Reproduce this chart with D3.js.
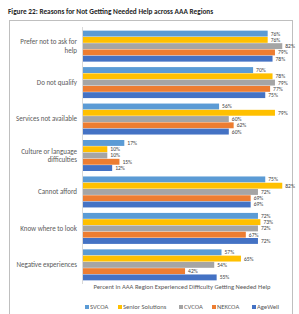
<!DOCTYPE html>
<html><head><meta charset="utf-8">
<script src="https://cdn.jsdelivr.net/npm/d3@7"></script>
<style>body{margin:0;background:#fff}svg{display:block}</style>
</head><body>
<script>
const categories = [["Prefer not to ask for","help"],["Do not qualify"],["Services not available"],["Culture or language","difficulties"],["Cannot afford"],["Know where to look"],["Negative experiences"]];
const seriesNames = ["SVCOA","Senior Solutions","CVCOA","NEKCOA","AgeWell"];
const SVCOA = [76,70,56,17,75,72,57];
const SeniorSolutions = [76,78,79,10,82,73,65];
const CVCOA = [82,79,60,10,72,72,54];
const NEKCOA = [79,77,62,15,69,67,42];
const AgeWell = [78,75,60,12,69,72,55];
const colors = ["#5B9BD5","#FFC000","#A5A5A5","#ED7D31","#4472C4"];
const seriesValues = [SVCOA,SeniorSolutions,CVCOA,NEKCOA,AgeWell];
const title = "Figure 22:  Reasons for Not Getting Needed Help across AAA Regions";
const axisTitle = "Percent in AAA Region Experienced Difficulty Getting Needed Help";

const W=299,H=314;
const svg=d3.select("body").append("svg").attr("width",W).attr("height",H);
const font="Calibri, Carlito, 'Liberation Sans', Arial, sans-serif";

svg.append("text").attr("x",8).attr("y",14).attr("font-family",font).attr("font-size",7.3)
  .attr("font-weight","bold").attr("fill","#262626").text(title);
svg.append("rect").attr("x",9.5).attr("y",20.5).attr("width",283).attr("height",300)
  .attr("fill","none").attr("stroke","#BFBFBF").attr("stroke-width",1);

const y=d3.scaleBand().domain(d3.range(categories.length)).range([27,284]).paddingInner(0.15).paddingOuter(0.1);
const ys=d3.scaleBand().domain(d3.range(seriesNames.length)).range([0,y.bandwidth()]).paddingInner(0.06);
const x=d3.scaleLinear().domain([0,100]).range([83,326]);

svg.append("line").attr("x1",82.5).attr("x2",82.5).attr("y1",27).attr("y2",284).attr("stroke","#D9D9D9");

const g=svg.append("g");
categories.forEach((c,i)=>{
  const gy=y(i);
  seriesValues.forEach((vals,s)=>{
    const v=vals[i];
    g.append("rect").attr("x",x(0)).attr("y",gy+ys(s)).attr("width",x(v)-x(0)).attr("height",ys.bandwidth())
      .attr("fill",colors[s]);
    g.append("text").attr("x",x(v)+3).attr("y",gy+ys(s)+ys.bandwidth()/2).attr("dy","0.35em")
      .attr("font-family",font).attr("font-size",5.6).attr("fill","#404040").text(v+"%");
  });
  const t=g.append("text").attr("x",77).attr("font-family",font).attr("font-size",7).attr("fill","#595959")
    .attr("text-anchor","end");
  const cy=gy+y.bandwidth()/2;
  const lh=8.5;
  c.forEach((line,k)=>{
    t.append("tspan").attr("x",77).attr("y",cy+(k-(c.length-1)/2)*lh).attr("dy","0.35em").text(line);
  });
});

svg.append("text").attr("x",182).attr("y",289).attr("text-anchor","middle").attr("font-family",font)
  .attr("font-size",6.6).attr("fill","#595959").text(axisTitle);

const legX=[85,118,179,212,252];
seriesNames.forEach((n,s)=>{
  svg.append("rect").attr("x",legX[s]).attr("y",305).attr("width",4).attr("height",4).attr("fill",colors[s]);
  svg.append("text").attr("x",legX[s]+5).attr("y",307).attr("dy","0.35em").attr("font-family",font)
    .attr("font-size",6.6).attr("fill","#595959").text(n);
});
</script>
</body></html>
